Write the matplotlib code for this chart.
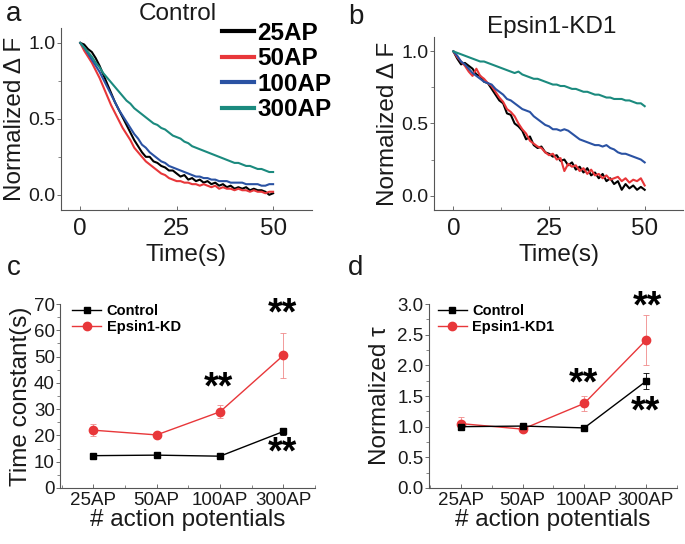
import numpy as np
import matplotlib.pyplot as plt
from matplotlib.ticker import MultipleLocator

plt.rcParams['font.family'] = ['Liberation Sans', 'DejaVu Sans']

# time axis of the decay traces (s)
t = np.arange(0, 51)

# panel a: Control, normalized dF
ctrl_25 = [1.00, 0.99, 0.96, 0.94, 0.90, 0.85, 0.79, 0.73, 0.67, 0.61, 0.56, 0.51, 0.46, 0.41, 0.36,
           0.32, 0.28, 0.25, 0.25, 0.22, 0.21, 0.19, 0.18, 0.16, 0.16, 0.14, 0.12, 0.13, 0.10, 0.11,
           0.09, 0.10, 0.08, 0.09, 0.07, 0.08, 0.06, 0.07, 0.05, 0.06, 0.04, 0.05, 0.04, 0.05, 0.03,
           0.04, 0.03, 0.03, 0.02, 0.00, 0.01]
ctrl_50 = [1.00, 0.95, 0.91, 0.87, 0.82, 0.77, 0.71, 0.65, 0.59, 0.54, 0.49, 0.44, 0.40, 0.36, 0.31,
           0.28, 0.25, 0.22, 0.20, 0.18, 0.16, 0.14, 0.13, 0.11, 0.10, 0.09, 0.09, 0.08, 0.08, 0.07,
           0.07, 0.06, 0.07, 0.06, 0.05, 0.06, 0.04, 0.05, 0.04, 0.04, 0.03, 0.04, 0.03, 0.03, 0.02,
           0.03, 0.02, 0.02, 0.01, 0.02, 0.02]
ctrl_100 = [1.00, 0.97, 0.93, 0.89, 0.85, 0.81, 0.76, 0.71, 0.66, 0.61, 0.56, 0.52, 0.48, 0.44, 0.40,
            0.37, 0.33, 0.31, 0.28, 0.26, 0.24, 0.22, 0.21, 0.19, 0.18, 0.17, 0.16, 0.15, 0.14, 0.13,
            0.12, 0.12, 0.11, 0.11, 0.10, 0.10, 0.09, 0.09, 0.09, 0.08, 0.08, 0.08, 0.08, 0.07, 0.07,
            0.07, 0.07, 0.06, 0.06, 0.07, 0.07]
ctrl_300 = [1.00, 0.97, 0.94, 0.91, 0.87, 0.84, 0.80, 0.77, 0.74, 0.71, 0.68, 0.65, 0.62, 0.60, 0.57,
            0.55, 0.53, 0.51, 0.49, 0.47, 0.46, 0.44, 0.43, 0.41, 0.39, 0.38, 0.37, 0.35, 0.34, 0.32,
            0.31, 0.30, 0.29, 0.28, 0.27, 0.26, 0.25, 0.24, 0.23, 0.22, 0.21, 0.21, 0.20, 0.19, 0.19,
            0.18, 0.17, 0.17, 0.16, 0.15, 0.15]

# panel b: Epsin1-KD1, normalized dF
kd_25 = [1.00, 0.95, 0.91, 0.92, 0.90, 0.88, 0.84, 0.83, 0.79, 0.78, 0.74, 0.70, 0.66, 0.64, 0.57,
         0.56, 0.50, 0.48, 0.45, 0.39, 0.41, 0.35, 0.33, 0.34, 0.30, 0.29, 0.27, 0.28, 0.24, 0.25,
         0.21, 0.23, 0.18, 0.20, 0.16, 0.19, 0.14, 0.16, 0.12, 0.15, 0.10, 0.12, 0.08, 0.10, 0.04,
         0.08, 0.05, 0.07, 0.04, 0.06, 0.04]
kd_50 = [1.00, 0.96, 0.93, 0.90, 0.86, 0.83, 0.88, 0.83, 0.81, 0.78, 0.76, 0.72, 0.68, 0.65, 0.60,
         0.58, 0.55, 0.50, 0.46, 0.43, 0.38, 0.36, 0.34, 0.33, 0.30, 0.28, 0.29, 0.25, 0.26, 0.17,
         0.22, 0.20, 0.21, 0.17, 0.19, 0.15, 0.18, 0.14, 0.15, 0.12, 0.14, 0.11, 0.12, 0.13, 0.10,
         0.12, 0.09, 0.11, 0.10, 0.12, 0.07]
kd_100 = [1.00, 0.97, 0.93, 0.91, 0.88, 0.85, 0.83, 0.81, 0.79, 0.78, 0.77, 0.74, 0.72, 0.70, 0.67,
          0.66, 0.64, 0.62, 0.60, 0.59, 0.58, 0.55, 0.53, 0.51, 0.49, 0.48, 0.46, 0.46, 0.45, 0.46,
          0.45, 0.43, 0.41, 0.39, 0.38, 0.37, 0.36, 0.35, 0.35, 0.34, 0.35, 0.33, 0.32, 0.30, 0.29,
          0.29, 0.28, 0.27, 0.26, 0.25, 0.23]
kd_300 = [1.00, 0.99, 0.98, 0.97, 0.96, 0.95, 0.94, 0.93, 0.93, 0.92, 0.91, 0.90, 0.89, 0.88, 0.87,
          0.86, 0.85, 0.86, 0.84, 0.83, 0.82, 0.81, 0.81, 0.80, 0.79, 0.78, 0.77, 0.77, 0.76, 0.76,
          0.75, 0.74, 0.74, 0.73, 0.72, 0.72, 0.71, 0.70, 0.70, 0.69, 0.68, 0.68, 0.67, 0.67, 0.67,
          0.66, 0.66, 0.65, 0.64, 0.64, 0.62]

trace_labels = ['25AP', '50AP', '100AP', '300AP']
trace_colors = ['black', '#e8373a', '#2a52a3', '#1b8a7e']

# panels c, d: summary
stim = ['25AP', '50AP', '100AP', '300AP']
tau_ctrl = [12.3, 12.5, 12.1, 21.5]
tau_ctrl_err = [0.6, 0.5, 0.6, 1.2]
tau_kd = [22.0, 20.2, 29.0, 50.5]
tau_kd_err = [2.2, 0.8, 2.5, 8.5]
norm_ctrl = [1.00, 1.01, 0.98, 1.74]
norm_ctrl_err = [0.03, 0.03, 0.04, 0.13]
norm_kd = [1.05, 0.96, 1.38, 2.41]
norm_kd_err = [0.10, 0.04, 0.12, 0.41]

fig = plt.figure(figsize=(6.85, 5.44), dpi=100)
ax_a = fig.add_axes([0.089, 0.614, 0.366, 0.335])
ax_b = fig.add_axes([0.634, 0.614, 0.363, 0.318])
ax_c = fig.add_axes([0.088, 0.103, 0.372, 0.338])
ax_d = fig.add_axes([0.626, 0.103, 0.362, 0.338])

spine_col = '#555555'
txt_col = '#1a1a1a'


def style(ax):
    for s in ['top', 'right']:
        ax.spines[s].set_visible(False)
    for s in ['left', 'bottom']:
        ax.spines[s].set_color(spine_col)
        ax.spines[s].set_linewidth(0.8)
    ax.tick_params(axis='y', direction='out', length=3, width=0.6, color=spine_col,
                   labelsize=14, labelcolor=txt_col, pad=1)
    ax.tick_params(axis='y', which='minor', direction='out', length=2, width=0.5, color=spine_col)
    ax.tick_params(axis='x', direction='in', length=3, width=0.6, color=spine_col,
                   labelsize=14, labelcolor=txt_col, pad=4)
    ax.tick_params(axis='x', which='minor', direction='in', length=2, width=0.5, color=spine_col)


# traces
for ax, traces in [(ax_a, [ctrl_25, ctrl_50, ctrl_100, ctrl_300]),
                   (ax_b, [kd_25, kd_50, kd_100, kd_300])]:
    for y, lab, c in zip(traces, trace_labels, trace_colors):
        ax.plot(t, y, color=c, lw=1.5, label=lab)
    ax.set_xlim(-5, 60)
    ax.set_ylim(-0.1, 1.1)
    ax.set_xticks([0, 25, 50])
    ax.set_yticks([0.0, 0.5, 1.0])
    ax.set_yticklabels(['0.0', '0.5', '1.0'])
    ax.xaxis.set_minor_locator(MultipleLocator(12.5))
    ax.yaxis.set_minor_locator(MultipleLocator(0.25))
    style(ax)
    ax.tick_params(axis='x', labelsize=17.5, pad=6)
    ax.set_xlabel('Time(s)', fontsize=17.5, color=txt_col, labelpad=3)
    ax.set_ylabel('Normalized \u0394 F', fontsize=17.5, color=txt_col, labelpad=2)

leg = ax_a.legend(loc='upper left', bbox_to_anchor=(222 / 685, 1 - 22 / 544),
                  bbox_transform=fig.transFigure, frameon=False,
                  prop={'weight': 'bold', 'size': 17.5}, handlelength=1.3,
                  handletextpad=0.15, labelspacing=0.1, borderpad=0, borderaxespad=0)
for h in leg.get_lines():
    h.set_linewidth(3)

fig.text(178 / 685, 1 - 14 / 544, 'Control', ha='center', va='center', fontsize=17.5, color=txt_col)
fig.text(552 / 685, 1 - 27 / 544, 'Epsin1-KD1', ha='center', va='center', fontsize=17.5, color=txt_col)

# summary panels
xpos = np.arange(len(stim))
red = '#e8373a'
for ax, yc, ec, yk, ek, lab_k, lx in [(ax_c, tau_ctrl, tau_ctrl_err, tau_kd, tau_kd_err, 'Epsin1-KD', 0.047),
                                      (ax_d, norm_ctrl, norm_ctrl_err, norm_kd, norm_kd_err, 'Epsin1-KD1', 0.036)]:
    eb1 = ax.errorbar(xpos, yc, yerr=ec, color='black', marker='s', ms=5, lw=1,
                      elinewidth=0.6, capsize=2, capthick=0.6, label='Control', zorder=3)
    eb2 = ax.errorbar(xpos, yk, yerr=ek, color=red, marker='o', ms=6, lw=1,
                      elinewidth=0.6, ecolor='#f08a8a', capsize=2, capthick=0.6, label=lab_k, zorder=2)
    ax.set_xlim(-0.52, 3.5)
    ax.set_xticks(xpos)
    ax.set_xticklabels(stim)
    ax.xaxis.set_minor_locator(MultipleLocator(0.5))
    style(ax)
    ax.tick_params(axis='x', labelsize=13.5, pad=3)
    ax.tick_params(axis='y', labelsize=13.5)
    ax.set_xlabel('# action potentials', fontsize=17.5, color=txt_col, labelpad=0)
    ax.legend(handles=[eb1[0], eb2[0]], labels=['Control', lab_k],
              loc='upper left', bbox_to_anchor=(lx, 1.0), frameon=False,
              prop={'weight': 'bold', 'size': 10.5}, handlelength=2.0,
              handletextpad=0.35, labelspacing=0.12, borderpad=0, borderaxespad=0)

ax_c.set_ylim(0, 70)
ax_c.set_yticks(np.arange(0, 71, 10))
ax_c.yaxis.set_minor_locator(MultipleLocator(5))
ax_c.set_ylabel('Time constant(s)', fontsize=17.5, color=txt_col, labelpad=1)

ax_d.set_ylim(0, 3.0)
ax_d.set_yticks(np.arange(0, 3.01, 0.5))
ax_d.set_yticklabels(['0.0', '0.5', '1.0', '1.5', '2.0', '2.5', '3.0'])
ax_d.yaxis.set_minor_locator(MultipleLocator(0.25))
ax_d.set_ylabel('Normalized \u03c4', fontsize=17.5, color=txt_col, labelpad=4)

# significance marks
star_kw = dict(ha='center', va='center', fontsize=27, fontweight='bold', color='black')
for x, y in [(1.97, 38.0), (2.98, 66.0), (2.98, 13.0)]:
    ax_c.text(x, y, '**', **star_kw)
for x, y in [(1.98, 1.69), (3.03, 2.94), (3.0, 1.23)]:
    ax_d.text(x, y, '**', **star_kw)

# panel letters
for lx, ly, s in [(14, 14, 'a'), (356, 17, 'b'), (14, 268, 'c'), (356, 268, 'd')]:
    fig.text(lx / 685, 1 - ly / 544, s, ha='center', va='center', fontsize=20, color=txt_col)

fig.savefig('out.png', dpi=100)
